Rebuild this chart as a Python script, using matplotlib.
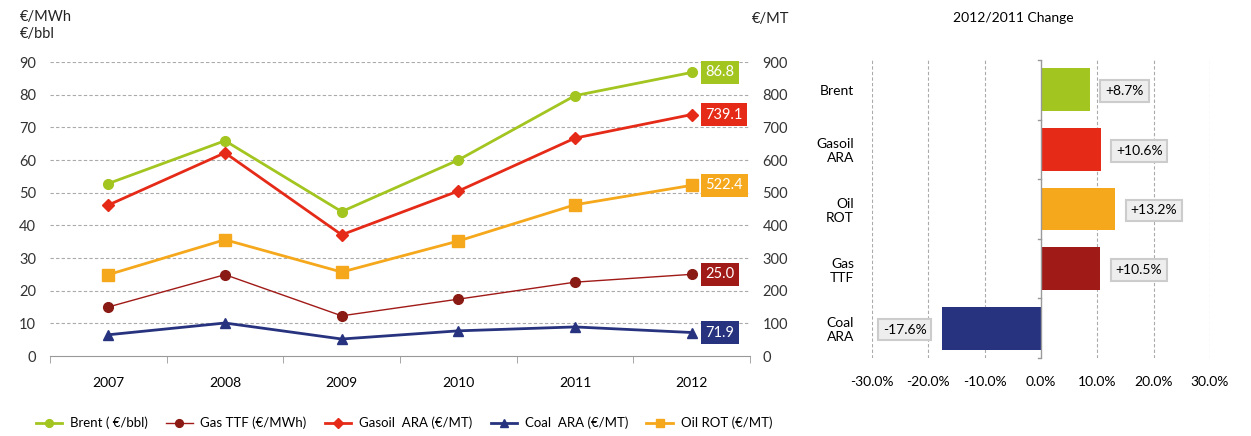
import numpy as np
import matplotlib
matplotlib.use('Agg')
from matplotlib import pyplot as plt

plt.rcParams['font.family'] = ['Lato', 'DejaVu Sans']
plt.rcParams['font.size'] = 9

years = ['2007', '2008', '2009', '2010', '2011', '2012']

# left scale (€/bbl, €/MWh)
brent = [52.8, 65.9, 44.2, 60.0, 79.7, 86.8]
gas_ttf = [15.0, 24.9, 12.3, 17.4, 22.6, 25.0]
# right scale (€/MT)
gasoil = [462, 622, 371, 505, 667, 739.1]
oil_rot = [249, 356, 257, 352, 463, 522.4]
coal = [65, 101, 52, 77, 89, 71.9]

change_names = ['Brent', 'Gasoil\nARA', 'Oil\nROT', 'Gas\nTTF', 'Coal\nARA']
change_vals = [8.7, 10.6, 13.2, 10.5, -17.6]

c_brent = '#A3C520'
c_gasoil = '#E52A18'
c_oil = '#F5A81C'
c_gas = '#A01A17'
c_coal = '#27337F'
bar_colors = [c_brent, c_gasoil, c_oil, c_gas, c_coal]

fig = plt.figure(figsize=(12.51, 4.36), dpi=100)

# ---- line chart ----
ax = fig.add_axes([50/1251, 1-356/436, 700/1251, 294/436])
ax2 = ax.twinx()
x = np.arange(len(years))

l1, = ax.plot(x, brent, color=c_brent, lw=2, marker='o', ms=7, label='Brent ( €/bbl)')
l2, = ax.plot(x, gas_ttf, color=c_gas, lw=1, marker='o', ms=7, mfc='#8A1A14', mec='#8A1A14', label='Gas TTF (€/MWh)')
l3, = ax2.plot(x, gasoil, color=c_gasoil, lw=2, marker='D', ms=6, label='Gasoil  ARA (€/MT)')
l4, = ax2.plot(x, coal, color=c_coal, lw=2, marker='^', ms=7, label='Coal  ARA (€/MT)')
l5, = ax2.plot(x, oil_rot, color=c_oil, lw=2, marker='s', ms=8, label='Oil ROT (€/MT)')

ax.set_xlim(-0.5, 5.5)
ax.set_ylim(0, 90)
ax2.set_ylim(0, 900)
ax.set_yticks(range(0, 91, 10))
ax2.set_yticks(range(0, 901, 100))
ax.set_xticks(x)
ax.set_xticklabels(years)
ax.set_xticks(np.arange(-0.5, 5.6, 1), minor=True)
ax.tick_params(axis='x', which='major', length=0, pad=15, labelsize=10)
ax.tick_params(axis='x', which='minor', length=5, color='#999999')
ax.tick_params(axis='y', length=0, pad=10, labelsize=10.5, colors='#333333')
ax2.tick_params(axis='y', length=0, pad=9, labelsize=10.5, colors='#333333')
for a in (ax, ax2):
    for s in ['top', 'left', 'right']:
        a.spines[s].set_visible(False)
ax2.spines['bottom'].set_visible(False)
ax.spines['bottom'].set_color('#999999')
for v in range(10, 91, 10):
    ax.axhline(v, color='#AAAAAA', lw=0.8, ls=(0, (3, 2)), zorder=0)

def end_label(a, val, txt, col):
    a.annotate(txt, (5, val), xytext=(10, 0), textcoords='offset points',
               va='center', ha='left', color='white', fontsize=10.5,
               bbox=dict(boxstyle='square,pad=0.3', fc=col, ec='none'))

end_label(ax, brent[-1], '86.8', c_brent)
end_label(ax2, gasoil[-1], '739.1', c_gasoil)
end_label(ax2, oil_rot[-1], '522.4', c_oil)
end_label(ax, gas_ttf[-1], '25.0', c_gas)
end_label(ax2, coal[-1], '71.9', c_coal)

fig.text(20/1251, 1-17/436, '€/MWh', fontsize=10.5, va='center', color='#222222')
fig.text(20/1251, 1-34/436, '€/bbl', fontsize=10.5, va='center', color='#222222')
fig.text(752/1251, 1-19/436, '€/MT', fontsize=10.5, va='center', color='#222222')

fig.legend(handles=[l1, l2, l3, l4, l5], loc='lower left', ncol=5, frameon=False,
           bbox_to_anchor=(24/1251, -0.012, 760/1251, 0.06), mode='expand',
           handlelength=2.0, handletextpad=0.6, fontsize=9.5, markerscale=0.8)

# ---- bar chart ----
bx = fig.add_axes([872/1251, 1-358/436, 338/1251, 298/436])
y = np.arange(len(change_names))
bx.barh(y, change_vals, height=0.72, color=bar_colors, zorder=2)
bx.set_xlim(-30, 30)
bx.set_ylim(4.5, -0.5)
bx.set_xticks(range(-30, 31, 10))
bx.set_xticklabels(['%.1f%%' % v for v in range(-30, 31, 10)])
bx.set_yticks(y)
bx.set_yticklabels(change_names)
bx.tick_params(axis='x', length=0, pad=13, labelsize=10)
bx.tick_params(axis='y', length=0, pad=13, labelsize=10)
for s in bx.spines.values():
    s.set_visible(False)
for v in range(-30, 31, 10):
    if v != 0:
        bx.axvline(v, color='#AAAAAA', lw=0.8, ls=(0, (3, 2)), zorder=0)
bx.axvline(0, color='#999999', lw=1, zorder=3)
for b in np.arange(-0.5, 4.6, 1):
    bx.plot([-0.6, 0], [b, b], color='#999999', lw=1, zorder=3, clip_on=False)
for i, v in enumerate(change_vals):
    txt = ('+%.1f%%' % v) if v > 0 else ('%.1f%%' % v)
    if v > 0:
        bx.annotate(txt, (v, i), xytext=(11, -1), textcoords='offset points', ha='left', va='center',
                    fontsize=10, bbox=dict(boxstyle='square,pad=0.35', fc='#EEEEEE', ec='#CCCCCC', lw=1.5))
    else:
        bx.annotate(txt, (v, i), xytext=(-11, -1), textcoords='offset points', ha='right', va='center',
                    fontsize=10, bbox=dict(boxstyle='square,pad=0.35', fc='#EEEEEE', ec='#CCCCCC', lw=1.5))
fig.text(1013/1251, 1-18/436, '2012/2011 Change', ha='center', va='center', fontsize=10)

fig.savefig('out.png', dpi=100)
